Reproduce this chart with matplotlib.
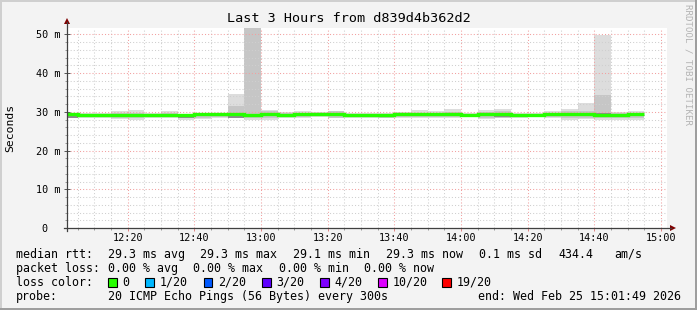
import matplotlib
matplotlib.use('Agg')
import matplotlib.pyplot as plt
from matplotlib.lines import Line2D
from matplotlib.patches import Polygon, Rectangle

# --- data (values in ms) ---
bin_start = ['12:00', '12:05', '12:10', '12:15', '12:20', '12:25', '12:30', '12:35', '12:40',
             '12:45', '12:50', '12:55', '13:00', '13:05', '13:10', '13:15', '13:20', '13:25',
             '13:30', '13:35', '13:40', '13:45', '13:50', '13:55', '14:00', '14:05', '14:10',
             '14:15', '14:20', '14:25', '14:30', '14:35', '14:40', '14:45', '14:50']

median_rtt = [29.3, 29.25, 29.2, 29.25, 29.25, 29.25, 29.25, 29.1, 29.3, 29.3, 29.3, 29.1,
              29.33, 29.25, 29.3, 29.33, 29.3, 29.2, 29.2, 29.1, 29.3, 29.3, 29.3, 29.3,
              29.25, 29.3, 29.3, 29.15, 29.2, 29.3, 29.3, 29.3, 29.25, 29.2, 29.3]

# outer smoke (min..max of the pings)
smoke_lo = [28.4, 28.5, 28.3, 28.1, 28.0, 28.4, 28.4, 28.0, 28.2, 28.5, 28.4, 28.0,
            27.9, 28.3, 28.4, 28.6, 28.3, 28.4, 28.5, 28.3, 28.3, 28.4, 28.4, 28.3,
            28.6, 28.1, 28.3, 28.3, 28.6, 28.4, 28.0, 28.1, 28.0, 28.0, 28.0]
smoke_hi = [29.5, 29.7, 29.6, 30.3, 30.4, 29.7, 30.3, 29.4, 29.7, 29.8, 34.6, 60.0,
            30.5, 29.9, 30.1, 30.0, 30.3, 29.8, 29.7, 29.6, 30.0, 30.4, 30.3, 30.6,
            29.7, 30.4, 30.6, 29.6, 29.6, 30.3, 30.6, 32.2, 49.8, 30.0, 30.3]
# middle smoke layer
mid_lo = [28.4, 28.7, 28.6, 28.4, 28.3, 28.6, 28.6, 28.3, 28.5, 28.7, 28.6, 28.3,
          28.3, 28.6, 28.6, 28.8, 28.5, 28.6, 28.7, 28.5, 28.6, 28.6, 28.6, 28.6,
          28.8, 28.4, 28.5, 28.6, 28.8, 28.6, 28.3, 28.4, 28.3, 28.3, 28.4]
mid_hi = [29.4, 29.5, 29.5, 29.7, 29.8, 29.5, 29.6, 29.3, 29.5, 29.6, 31.6, 60.0,
          30.3, 29.6, 29.7, 29.7, 30.1, 29.5, 29.4, 29.4, 29.7, 29.8, 29.7, 30.0,
          29.5, 29.9, 30.2, 29.4, 29.4, 29.8, 30.1, 30.3, 34.3, 29.7, 29.8]
# dark core around the median
core_lo = [28.5, 28.9, 28.9, 28.8, 28.8, 28.9, 28.9, 28.4, 28.8, 28.9, 28.5, 28.7,
           28.8, 28.9, 28.9, 29.0, 28.9, 28.9, 28.9, 28.6, 28.9, 28.9, 28.9, 28.9,
           29.0, 28.8, 28.6, 28.8, 29.0, 28.9, 28.8, 28.8, 28.6, 28.8, 28.8]
core_hi = [29.3, 29.4, 29.3, 29.4, 29.4, 29.4, 29.4, 29.2, 29.4, 29.4, 29.5, 29.5,
           29.5, 29.4, 29.5, 29.5, 29.5, 29.3, 29.3, 29.2, 29.4, 29.4, 29.4, 29.5,
           29.4, 29.4, 29.4, 29.3, 29.3, 29.4, 29.5, 29.5, 29.6, 29.4, 29.5]

x_tick_labels = ['12:20', '12:40', '13:00', '13:20', '13:40', '14:00', '14:20', '14:40', '15:00']
y_tick_labels = ['0  ', '10 m', '20 m', '30 m', '40 m', '50 m']

loss_labels = ['0', '1/20', '2/20', '3/20', '4/20', '10/20', '19/20']
loss_colors = ['#26ff00', '#00b8ff', '#0059ff', '#5e00ff', '#7e00ff', '#dd00ff', '#ff0000']

W, H = 697, 310
MONO = 'DejaVu Sans Mono'


def fx(x):
    return x / W


def fy(y):
    return 1 - y / H


def minutes(hhmm):
    h, m = hhmm.split(':')
    return (int(h) - 12) * 60 + int(m)


fig = plt.figure(figsize=(W / 100, H / 100), dpi=100, facecolor='#f3f3f3')

# rrdtool 3d frame
fig.add_artist(Rectangle((0, fy(2)), 1, 2 / H, transform=fig.transFigure, color='#cfcfcf', lw=0))
fig.add_artist(Rectangle((0, 0), 2 / W, 1, transform=fig.transFigure, color='#cfcfcf', lw=0))
fig.add_artist(Rectangle((0, 0), 1, 2 / H, transform=fig.transFigure, color='#9e9e9e', lw=0))
fig.add_artist(Rectangle((fx(695), 0), 2 / W, 1, transform=fig.transFigure, color='#9e9e9e', lw=0))

ax = fig.add_axes([fx(67), fy(228), (667 - 67) / W, (228 - 27.5) / H])
ax.set_facecolor('white')

starts = [minutes(t) for t in bin_start]
step = 5

def layer(lo, hi, color):
    heights = [h - l for l, h in zip(lo, hi)]
    ax.bar(starts, heights, bottom=lo, width=step, align='edge', color=color,
           linewidth=0, antialiased=False, zorder=1)

layer(smoke_lo, smoke_hi, '#dddddd')
layer(mid_lo, mid_hi, '#c6c6c6')
layer(core_lo, core_hi, '#8c8c8c')

edges = starts + [starts[-1] + step]
ax.step(edges, median_rtt + [median_rtt[-1]], where='post', color='#26ff00', lw=2.4,
        solid_capstyle='butt', solid_joinstyle='miter', zorder=3)

ax.set_xlim(1 + 49 / 60, 181 + 49 / 60)
ax.set_ylim(0, 51.75)

ax.set_xticks([minutes(t) for t in x_tick_labels], x_tick_labels)
ax.set_xticks(list(range(5, 185, 5)), minor=True)
ax.set_yticks([0, 10, 20, 30, 40, 50], y_tick_labels)
ax.set_yticks(list(range(2, 52, 2)), minor=True)

ax.set_axisbelow('line')
ax.grid(which='minor', color='#cfcfcf', lw=0.75, ls=(0, (1, 2)))
ax.grid(which='major', color='#f2a0a0', lw=0.75, ls=(0, (1, 2)))

for s in ax.spines.values():
    s.set_visible(False)

ax.tick_params(axis='x', which='major', length=2, width=0.7, color='#e08080', pad=1.3,
               labelsize=7.3)
ax.tick_params(axis='x', which='minor', length=1.5, width=0.7, color='#999999')
ax.tick_params(axis='y', which='major', direction='inout', length=4, width=0.7,
               color='#555555', pad=3, labelsize=7.3)
ax.tick_params(axis='y', which='minor', length=1.5, width=0.7, color='#999999')
for lab in ax.get_xticklabels() + ax.get_yticklabels():
    lab.set_family(MONO)

# axes with arrows
fig.add_artist(Line2D([fx(67), fx(67)], [fy(231), fy(22)], color='#404040', lw=0.9))
fig.add_artist(Line2D([fx(64), fx(671)], [fy(228), fy(228)], color='#404040', lw=0.9))
fig.add_artist(Polygon([(fx(64), fy(24)), (fx(70), fy(24)), (fx(67), fy(18))],
                       closed=True, transform=fig.transFigure, color='#7f0000', lw=0))
fig.add_artist(Polygon([(fx(670), fy(225)), (fx(670), fy(231)), (fx(676), fy(228))],
                       closed=True, transform=fig.transFigure, color='#7f0000', lw=0))

# titles
fig.text(fx(348.5), fy(19), 'Last 3 Hours from d839d4b362d2', ha='center', va='center',
         family=MONO, fontsize=9.7)
fig.text(fx(10), fy(127.5), 'Seconds', rotation=90, ha='center', va='center',
         family=MONO, fontsize=8.2)
fig.text(fx(688), fy(4), 'RRDTOOL / TOBI OETIKER', rotation=270, ha='center', va='top',
         family=MONO, fontsize=6.6, color='#b4b4b4')

# legend rows
leg = dict(family=MONO, fontsize=8.35, va='center', ha='left')
row1 = [(16, 'median rtt:'), (107.6, '29.3 ms avg'), (200, '29.3 ms max'),
        (292.9, '29.1 ms min'), (385.8, '29.3 ms now'), (479.1, '0.1 ms sd'),
        (558.2, '434.4'), (614.7, 'am/s')]
row2 = [(16, 'packet loss:'), (107.6, '0.00 % avg'), (192.9, '0.00 % max'),
        (279.1, '0.00 % min'), (364.4, '0.00 % now')]
for x, s in row1:
    fig.text(fx(x), fy(254.3), s, **leg)
for x, s in row2:
    fig.text(fx(x), fy(268.3), s, **leg)

fig.text(fx(16), fy(282.3), 'loss color:', **leg)
box_x = [108, 145.3, 203.6, 262.2, 320, 378.2, 442.2]
for bx, lab, col in zip(box_x, loss_labels, loss_colors):
    fig.add_artist(Rectangle((fx(bx), fy(286.5)), 8.5 / W, 8.5 / H, transform=fig.transFigure,
                             facecolor=col, edgecolor='black', lw=0.8))
    fig.text(fx(bx + 14.5), fy(282.3), lab, **leg)

fig.text(fx(16), fy(296.3), 'probe:', **leg)
fig.text(fx(107.6), fy(296.3), '20 ICMP Echo Pings (56 Bytes) every 300s', **leg)
fig.text(fx(478.2), fy(296.3), 'end: Wed Feb 25 15:01:49 2026', **leg)

fig.savefig('out.png', dpi=100, facecolor=fig.get_facecolor())
